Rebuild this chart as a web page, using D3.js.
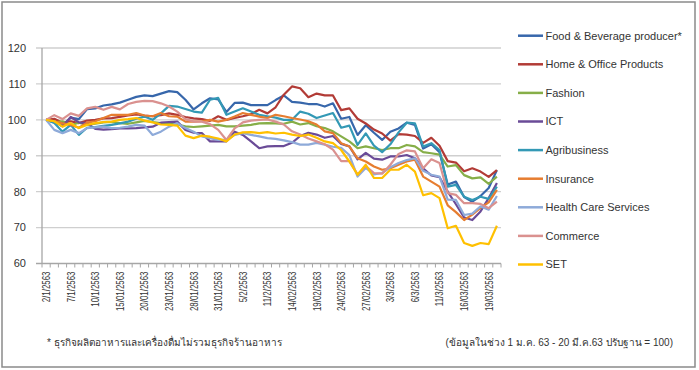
<!DOCTYPE html>
<html>
<head>
<meta charset="utf-8">
<script src="https://cdn.jsdelivr.net/npm/d3@7"></script>
<style>
  body { margin: 0; background: #fff; }
  text { font-family: "Liberation Sans", Arial, sans-serif; fill: #333; }
</style>
</head>
<body>
<div id="chart"></div>
<script>
// trading days 2/1/2563 - 20/3/2563
const dates = ["2/1/2563","3/1/2563","6/1/2563","7/1/2563","8/1/2563","9/1/2563","10/1/2563","13/01/2563","14/01/2563","15/01/2563",
  "16/01/2563","17/01/2563","20/01/2563","21/01/2563","22/01/2563","23/01/2563","24/01/2563","27/01/2563","28/01/2563","29/01/2563",
  "30/01/2563","31/01/2563","3/2/2563","4/2/2563","5/2/2563","6/2/2563","7/2/2563","11/2/2563","12/2/2563","13/02/2563",
  "14/02/2563","17/02/2563","18/02/2563","19/02/2563","20/02/2563","21/02/2563","24/02/2563","25/02/2563","26/02/2563","27/02/2563",
  "28/02/2563","2/3/2563","3/3/2563","4/3/2563","5/3/2563","6/3/2563","9/3/2563","10/3/2563","11/3/2563","12/3/2563",
  "13/03/2563","16/03/2563","17/03/2563","18/03/2563","19/03/2563","20/03/2563"];

const foodBev = [100,99.5,98.3,100.6,100.2,103,103.2,104,104.3,104.8,105.6,106.4,106.8,106.6,107.3,108,107.7,105.6,102.9,104.6,
  106,105.7,102.2,104.7,104.8,104.1,104.1,104.1,105.5,106.8,105,104.8,104.4,104.4,103.7,104.6,100.3,100.8,95.8,98.5,
  96.4,94.4,96.7,97.6,99.2,98.6,92,93.2,91,82,82.8,78.5,77.2,78.8,81,86];
const homeOffice = [100,100.3,99.2,99.6,99.1,99.8,100,100.4,100.5,100.8,101.2,101.5,101.2,101,101.3,101.8,101.4,100.8,100.4,100.2,
  99.7,101,100,100.5,101,101.6,102.8,101.8,103.5,107,109.3,108.8,106.3,107.3,106.8,106.8,102.7,103.2,100.3,99,
  97.3,96.2,94.2,96,95.9,95.5,93.6,95,92.8,88.5,88.1,85.7,86.5,85.6,84.1,86];
const fashion = [100,99.3,99.6,98.5,99.2,98.6,98.9,99.3,99.4,99.1,98.9,99.3,99.7,99.4,99.1,99,98.7,98.2,98,98.2,
  98.4,98.6,98.2,98.2,98.4,98.6,99,99.1,99,98.9,99.5,98.7,99.1,98.2,97.7,96.8,95.4,94,92.1,92.6,
  92.1,91.6,92.1,92.1,93,92.6,91,90.7,90.3,87,87.4,84.6,83.7,84,82.2,84.2];
const ict = [100,99.6,98.2,100.8,99.3,99,97.5,97.3,97.4,97.6,97.6,97.7,97.9,98.1,99.2,99.4,99.5,97.2,96.4,96.3,
  94,94,94,96.7,95.8,94,92.1,92.6,92.7,92.7,93.6,95.5,96.4,95.9,95,95.5,93.3,92.6,89,90.8,
  89.2,88.9,89.8,89.8,90.2,89.3,86.5,84.5,84,80,76.5,72.8,72.1,74.5,78.2,82.4];
const agri = [100,99.1,96.7,98.6,95.8,97.8,98,98.3,98.6,99,99.5,100.3,100.9,100,101.8,103.9,103.7,103,102.3,102,
  105.6,106.1,101.4,102.3,103.2,102.3,101.4,101,100.6,100,100,102.3,101.7,100.5,101.2,101.9,97.8,98.4,93,96.2,
  92.8,91,93.2,96.5,99.2,99,92.6,93.5,91.6,81.4,81.9,78.6,77.7,78.6,78,81.4];
const insurance = [100,99.6,99,98.6,97.8,99.2,99.6,100.5,101.4,101.4,101.4,101.9,101.2,101,101.9,101,100.9,99.5,99.5,99.6,
  100,99.5,100,100.9,101.9,101.4,100.9,100.5,101.4,101,100.5,100.1,99.6,98.7,96.8,96.3,93.5,92.6,89.3,88.4,
  87,86.1,86.5,87.5,88.4,88.9,84.2,82.8,81.4,76.2,74.3,72.1,73.6,75.5,77,80.5];
const healthCare = [100,97.2,96.3,97.2,96.3,97.7,97.9,98.1,97.7,97.8,98.1,98.6,98.4,95.8,96.7,98.1,99.1,97.7,96.7,95.4,
  94.9,94.4,94.4,95.8,96.3,95.8,95.4,94.9,94.7,94.3,93.8,93.1,93.1,93.6,93.1,92.5,92.2,90.2,84.2,86.6,
  84.8,85.2,86.8,88,88.8,89.3,85.8,84.7,84.2,77.8,77.7,73.5,73.9,75.9,75,78.8];
const commerce = [100,101.3,100.2,101.8,101.1,103.2,103.6,102.8,103.6,102.9,104.4,105,105.3,105.2,104.6,103.7,102.3,100.2,99.5,99.5,
  98.8,97.2,94.4,97.6,99.3,99.8,100,100.1,99.5,98.7,96.8,95.9,94.8,94,93.2,91.7,88.5,88.5,84.8,87.1,
  85.2,85,87.5,90.5,91.5,91.2,86.5,89,88,79.6,79.1,76.8,76.8,76.6,75.4,77.2];
const setIndex = [100,99.6,98.1,99.1,97.7,98.6,99.1,99.4,99.5,100,100.2,100.5,99.8,99.3,98.7,98.6,98.4,95.6,94.9,95.6,
  95.3,94.8,94,95.9,96.5,96.6,96.3,96.6,96.2,96.4,95.9,95.5,95.9,95,94,93.5,91.6,88.4,84.7,87.5,
  83.8,83.8,86.1,86.1,87.5,85.6,79,79.6,78.2,69.8,70.5,65.7,64.9,65.7,65.4,70.5];

const seriesNames = ["Food & Beverage producer*","Home & Office Products","Fashion","ICT","Agribusiness",
  "Insurance","Health Care Services","Commerce","SET"];
const seriesValues = [foodBev, homeOffice, fashion, ict, agri, insurance, healthCare, commerce, setIndex];
const colors = ["#3767ab","#b23b36","#86ae48","#6a4b97","#3399b5","#e67d30","#8eaad9","#da918f","#ffc000"];
const yTicks = [60, 70, 80, 90, 100, 110, 120];

const W = 699, H = 370;
const svg = d3.select("#chart").append("svg")
  .attr("width", W).attr("height", H);

// outer frame
svg.append("rect")
  .attr("x", 2).attr("y", 2).attr("width", 693).attr("height", 365)
  .attr("fill", "none").attr("stroke", "#8a8a8a").attr("stroke-width", 1.5);

const plotLeft = 42, plotRight = 501, plotTop = 48, plotBottom = 263.5;

var x = d3.scalePoint().domain(dates).range([plotLeft, plotRight]).padding(0.5);
var y = d3.scaleLinear().domain([60, 120]).range([plotBottom, plotTop]);

// gridlines + y labels
svg.append("g").selectAll("line").data(yTicks).enter().append("line")
  .attr("x1", plotLeft - 6).attr("x2", plotRight)
  .attr("y1", d => y(d)).attr("y2", d => y(d))
  .attr("stroke", d => d == 60 ? "#a6a6a6" : "#cfcfcf")
  .attr("stroke-width", 1.3);

svg.append("g").selectAll("text").data(yTicks).enter().append("text")
  .attr("x", 26).attr("y", d => y(d)).attr("dy", "0.35em")
  .attr("text-anchor", "end").style("font-size", "11px")
  .text(d => d);

// y axis line
svg.append("line")
  .attr("x1", plotLeft).attr("x2", plotLeft).attr("y1", plotTop).attr("y2", plotBottom)
  .attr("stroke", "#a6a6a6").attr("stroke-width", 1.3);

// category tick marks between points
const step = x.step();
svg.append("g").selectAll("line").data(d3.range(dates.length + 1)).enter().append("line")
  .attr("x1", i => plotLeft + i * step).attr("x2", i => plotLeft + i * step)
  .attr("y1", plotBottom).attr("y2", plotBottom + 4)
  .attr("stroke", "#a6a6a6").attr("stroke-width", 1);

// x labels, every third day
svg.append("g").selectAll("text")
  .data(dates.filter((d, i) => i % 3 == 0)).enter().append("text")
  .attr("transform", d => "translate(" + x(d) + "," + (plotBottom + 8) + ") rotate(-90) scale(0.72,1)")
  .attr("dy", "0.36em").attr("text-anchor", "end")
  .style("font-size", "11px")
  .text(d => d);

// lines
var line = d3.line()
  .x((v, i) => x(dates[i]))
  .y(v => y(v));

svg.append("g").selectAll("path").data(seriesValues).enter().append("path")
  .attr("d", line)
  .attr("fill", "none")
  .attr("stroke", (d, i) => colors[i])
  .attr("stroke-width", 2.2)
  .attr("stroke-linejoin", "round");

// legend
var legend = svg.append("g").selectAll("g").data(seriesNames).enter().append("g")
  .attr("transform", (d, i) => "translate(518," + (35.7 + i * 28.6) + ")");
legend.append("line")
  .attr("x1", 0).attr("x2", 25).attr("y1", 0).attr("y2", 0)
  .attr("stroke", (d, i) => colors[i]).attr("stroke-width", 2.5);
legend.append("text")
  .attr("x", 27.5).attr("dy", "0.35em")
  .style("font-size", "11px")
  .text(d => d);

// footnotes
svg.append("text")
  .attr("x", 47).attr("y", 346)
  .style("font-size", "10px")
  .text("* ธุรกิจผลิตอาหารและเครื่องดื่มไม่รวมธุรกิจร้านอาหาร");
svg.append("text")
  .attr("x", 673).attr("y", 346).attr("text-anchor", "end")
  .style("font-size", "10px")
  .text("(ข้อมูลในช่วง 1 ม.ค. 63 - 20 มี.ค.63 ปรับฐาน = 100)");
</script>
</body>
</html>
